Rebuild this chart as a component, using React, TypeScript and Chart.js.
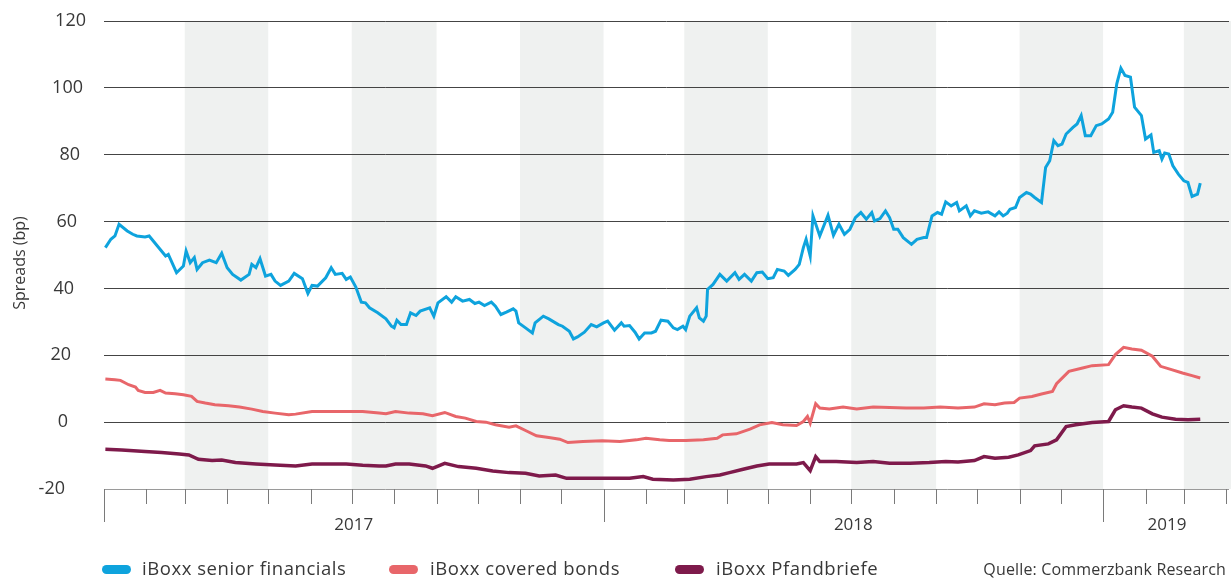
import React, { useEffect, useRef } from 'react';
import { Chart, registerables } from 'chart.js';

Chart.register(...registerables);

// x values: days since 2017-01-01
const seniorDays = [1, 5, 8, 11, 17, 21, 24, 30, 33, 39, 45, 47, 53, 58, 60, 63, 66, 68, 72, 77, 82, 86, 90, 94, 100, 106, 108, 111, 114, 118, 122, 125, 129, 135, 139, 145, 149, 152, 156, 162, 166, 169, 174, 177, 180, 184, 188, 191, 194, 200, 206, 210, 212, 214, 217, 221, 224, 228, 231, 238, 241, 244, 250, 254, 257, 262, 267, 271, 274, 278, 283, 286, 290, 294, 299, 301, 303, 308, 313, 315, 321, 325, 332, 335, 340, 343, 346, 351, 356, 360, 365, 368, 373, 378, 380, 384, 388, 391, 395, 400, 403, 407, 412, 416, 419, 423, 425, 428, 433, 435, 438, 440, 441, 445, 450, 455, 461, 464, 468, 473, 477, 481, 485, 489, 492, 497, 500, 505, 508, 511, 513, 516, 518, 523, 529, 533, 537, 541, 545, 549, 553, 557, 561, 563, 567, 571, 574, 577, 580, 584, 590, 594, 599, 601, 605, 609, 612, 615, 619, 623, 625, 630, 633, 636, 641, 646, 651, 654, 657, 660, 662, 666, 669, 674, 677, 680, 685, 688, 691, 694, 697, 700, 703, 708, 711, 714, 717, 721, 725, 729, 734, 737, 740, 743, 746, 750, 753, 758, 761, 765, 767, 771, 773, 775, 778, 781, 785, 789, 792, 795, 799, 801];
const seniorSpread = [52.2, 54.7, 55.7, 59.2, 57.2, 56.2, 55.7, 55.4, 55.7, 52.7, 49.7, 50.2, 44.7, 46.7, 51.2, 47.7, 49.2, 45.7, 47.7, 48.5, 47.7, 50.5, 46.2, 44.2, 42.5, 44.2, 47.2, 46.2, 48.9, 43.7, 44.2, 42.2, 40.9, 42.2, 44.5, 42.9, 38.5, 40.9, 40.7, 43.2, 46.2, 44.2, 44.5, 42.7, 43.4, 40.4, 35.9, 35.7, 34.2, 32.7, 30.9, 28.7, 28.2, 30.5, 29.2, 29.2, 32.7, 31.9, 33.2, 34.2, 31.7, 35.7, 37.5, 35.9, 37.5, 36.2, 36.7, 35.5, 35.9, 34.9, 35.9, 34.7, 32.2, 32.9, 33.9, 33.2, 29.7, 28.2, 26.7, 29.7, 31.7, 30.9, 29.2, 28.7, 27.2, 24.9, 25.5, 26.9, 29.2, 28.5, 29.7, 30.2, 27.5, 29.7, 28.7, 28.9, 26.9, 24.9, 26.7, 26.7, 27.2, 30.5, 30.2, 28.2, 27.7, 28.7, 27.7, 31.7, 34.2, 31.2, 30.2, 31.7, 39.7, 41.2, 44.2, 42.2, 44.7, 42.7, 44.2, 42.2, 44.7, 44.9, 42.9, 43.2, 45.7, 45.2, 43.9, 45.7, 47.2, 52.2, 54.7, 49.7, 61.7, 55.7, 61.9, 55.9, 59.2, 56.2, 57.7, 61.2, 62.7, 60.7, 62.7, 60.2, 60.9, 63.2, 61.2, 57.7, 57.7, 55.2, 53.2, 54.7, 55.2, 55.2, 61.7, 62.7, 62.2, 65.9, 64.7, 65.7, 63.2, 64.7, 61.7, 63.2, 62.5, 62.9, 61.7, 62.9, 61.7, 62.5, 63.7, 64.2, 67.2, 68.7, 68.2, 67.2, 65.7, 76.2, 78.2, 84.2, 82.7, 83.2, 86.2, 88.2, 89.2, 91.7, 85.7, 85.7, 88.7, 89.2, 90.7, 92.7, 101.2, 105.9, 103.7, 103.2, 94.2, 91.7, 84.7, 85.9, 80.7, 81.2, 78.7, 80.5, 80.2, 76.7, 74.2, 72.2, 71.7, 67.5, 68.2, 71.5];

const coveredDays = [1, 8, 12, 18, 23, 25, 30, 36, 41, 45, 52, 58, 64, 68, 74, 81, 91, 99, 108, 116, 125, 135, 140, 152, 164, 177, 189, 201, 206, 213, 223, 233, 240, 249, 257, 264, 272, 279, 286, 296, 301, 308, 316, 325, 333, 339, 350, 364, 377, 389, 396, 406, 413, 425, 438, 448, 452, 462, 472, 479, 488, 496, 506, 511, 514, 516, 520, 523, 530, 540, 550, 562, 574, 586, 599, 611, 624, 636, 643, 651, 658, 665, 669, 678, 685, 693, 696, 705, 715, 722, 734, 739, 745, 751, 758, 766, 772, 780, 788, 795, 801];
const coveredSpread = [12.9, 12.7, 12.5, 11.2, 10.5, 9.5, 8.9, 8.9, 9.5, 8.7, 8.5, 8.2, 7.7, 6.2, 5.7, 5.2, 4.9, 4.5, 3.9, 3.2, 2.7, 2.2, 2.4, 3.2, 3.2, 3.2, 3.2, 2.7, 2.5, 3.2, 2.7, 2.5, 1.9, 2.9, 1.7, 1.2, 0.2, 0.0, -0.8, -1.5, -1.1, -2.5, -4.1, -4.6, -5.1, -6.1, -5.8, -5.6, -5.8, -5.3, -4.8, -5.3, -5.5, -5.5, -5.3, -4.8, -3.8, -3.5, -2.1, -0.8, -0.1, -0.8, -1.0, 0.2, 1.7, -0.3, 5.5, 4.2, 3.9, 4.5, 3.9, 4.5, 4.4, 4.2, 4.2, 4.5, 4.2, 4.5, 5.5, 5.2, 5.7, 5.9, 7.2, 7.7, 8.4, 9.2, 11.5, 15.2, 16.2, 16.9, 17.2, 20.2, 22.4, 21.9, 21.5, 19.7, 16.7, 15.7, 14.7, 13.9, 13.2];

const pfandDays = [1, 13, 30, 42, 55, 62, 69, 79, 86, 96, 111, 125, 140, 152, 164, 177, 189, 201, 206, 213, 223, 235, 240, 249, 259, 272, 284, 296, 308, 318, 330, 338, 350, 369, 384, 394, 401, 416, 428, 440, 450, 457, 467, 477, 486, 496, 506, 511, 516, 520, 523, 535, 550, 562, 574, 589, 603, 615, 624, 636, 643, 651, 661, 668, 677, 680, 690, 696, 703, 710, 722, 734, 739, 745, 751, 758, 766, 773, 783, 792, 801];
const pfandSpread = [-8.1, -8.3, -8.8, -9.1, -9.5, -9.8, -11.1, -11.5, -11.3, -12.1, -12.5, -12.8, -13.1, -12.5, -12.5, -12.5, -12.9, -13.1, -13.1, -12.5, -12.5, -13.1, -13.8, -12.3, -13.3, -13.8, -14.6, -15.1, -15.3, -16.1, -15.8, -16.8, -16.8, -16.8, -16.8, -16.3, -17.1, -17.3, -17.1, -16.3, -15.8, -15.1, -14.1, -13.1, -12.5, -12.5, -12.5, -12.1, -14.5, -10.3, -11.8, -11.8, -12.1, -11.8, -12.3, -12.3, -12.1, -11.8, -11.9, -11.5, -10.3, -10.8, -10.5, -9.8, -8.5, -7.1, -6.5, -5.3, -1.3, -0.8, -0.1, 0.2, 3.7, 4.9, 4.5, 4.2, 2.5, 1.5, 0.9, 0.7, 0.9];

const seriesLabels = ['iBoxx senior financials', 'iBoxx covered bonds', 'iBoxx Pfandbriefe'];
const seriesColors = ['#0ea3dd', '#e8666a', '#7e1a4b'];
const yearLabels = ['2017', '2018', '2019'];
const yTitle = 'Spreads (bp)';
const sourceNote = 'Quelle: Commerzbank Research';

const DAY0 = Date.UTC(2017, 0, 1);
const dayOf = (y: number, m: number) => (Date.UTC(y, m, 1) - DAY0) / 86400000;
const FONT = '"Open Sans", sans-serif';
const TEXT = '#383838';

export default function App() {
  const ref = useRef<HTMLCanvasElement>(null);

  useEffect(() => {
    document.body.style.margin = '0';
    document.body.style.overflow = 'hidden';
    const canvas = ref.current!;

    const decor = {
      id: 'decor',
      beforeDraw(chart: any) {
        const { ctx, chartArea: a, scales } = chart;
        const x = scales.x;
        ctx.save();
        ctx.fillStyle = '#eff1f0';
        for (let y = 2017; y <= 2019; y++) {
          for (const m of [2, 6, 10]) {
            const x0 = x.getPixelForValue(dayOf(y, m));
            const x1 = x.getPixelForValue(dayOf(y, m + 2));
            const l = Math.max(x0, a.left);
            const r = Math.min(x1, chart.width);
            if (r > l) ctx.fillRect(l, a.top, r - l, a.bottom - a.top);
          }
        }
        ctx.restore();
      },
      afterDraw(chart: any) {
        const { ctx, chartArea: a, scales } = chart;
        const x = scales.x;
        const yS = scales.y;
        ctx.save();
        // month ticks
        ctx.strokeStyle = '#7a7a7a';
        ctx.lineWidth = 1;
        const axisY = a.bottom;
        for (let y = 2017; y <= 2019; y++) {
          for (let m = 0; m < 12; m++) {
            const d = dayOf(y, m);
            if (d > x.max) continue;
            const px = Math.round(x.getPixelForValue(d)) + 0.5;
            const len = m === 0 ? 33 : 15;
            ctx.beginPath();
            ctx.moveTo(px, axisY);
            ctx.lineTo(px, axisY + len);
            ctx.stroke();
          }
        }
        // year labels
        ctx.fillStyle = TEXT;
        ctx.font = `17px ${FONT}`;
        ctx.textAlign = 'center';
        ctx.textBaseline = 'middle';
        yearLabels.forEach((lab, i) => {
          const yr = 2017 + i;
          const l = x.getPixelForValue(dayOf(yr, 0));
          const r = Math.min(x.getPixelForValue(dayOf(yr + 1, 0)), chart.width);
          ctx.fillText(lab, (l + r) / 2, axisY + 36);
        });
        // y tick labels
        ctx.font = `18px ${FONT}`;
        ctx.textAlign = 'right';
        yS.ticks.forEach((t: any) => {
          const py = yS.getPixelForValue(t.value);
          const right = 65 + (t.value + 20) * 0.15;
          ctx.fillText(String(t.value), right, py);
        });
        // y title
        ctx.save();
        ctx.font = `16px ${FONT}`;
        ctx.textAlign = 'center';
        ctx.textBaseline = 'middle';
        ctx.translate(20, 263);
        ctx.rotate(-Math.PI / 2);
        ctx.fillText(yTitle, 0, 0);
        ctx.restore();
        // legend
        const pillX = [102, 389, 675];
        const textX = [142, 430, 716];
        const baseY = 575;
        ctx.textAlign = 'left';
        ctx.textBaseline = 'alphabetic';
        ctx.font = `18.5px ${FONT}`;
        seriesLabels.forEach((lab, i) => {
          const w = 29, h = 9, r = h / 2;
          const px = pillX[i], cy = 569.5;
          ctx.fillStyle = seriesColors[i];
          ctx.beginPath();
          ctx.moveTo(px + r, cy - r);
          ctx.lineTo(px + w - r, cy - r);
          ctx.arc(px + w - r, cy, r, -Math.PI / 2, Math.PI / 2);
          ctx.lineTo(px + r, cy + r);
          ctx.arc(px + r, cy, r, Math.PI / 2, Math.PI * 1.5);
          ctx.closePath();
          ctx.fill();
          ctx.fillStyle = TEXT;
          (ctx as any).letterSpacing = '0.55px';
          ctx.fillText(lab, textX[i], baseY);
          (ctx as any).letterSpacing = '0px';
        });
        ctx.font = `16px ${FONT}`;
        ctx.textAlign = 'right';
        (ctx as any).letterSpacing = '0.15px';
        ctx.fillText(sourceNote, 1226, baseY);
        (ctx as any).letterSpacing = '0px';
        ctx.restore();
      },
    };

    const mk = (days: number[], vals: number[]) => days.map((d, i) => ({ x: d, y: vals[i] }));

    const chart = new Chart(canvas, {
      type: 'line',
      data: {
        datasets: [
          { label: seriesLabels[0], data: mk(seniorDays, seniorSpread), borderColor: seriesColors[0], borderWidth: 3, pointRadius: 0, tension: 0, fill: false },
          { label: seriesLabels[1], data: mk(coveredDays, coveredSpread), borderColor: seriesColors[1], borderWidth: 3, pointRadius: 0, tension: 0, fill: false },
          { label: seriesLabels[2], data: mk(pfandDays, pfandSpread), borderColor: seriesColors[2], borderWidth: 3.5, pointRadius: 0, tension: 0, fill: false },
        ],
      },
      options: {
        animation: false,
        responsive: false,
        devicePixelRatio: 1,
        layout: { padding: { left: 0, right: 2, top: 21, bottom: 89 } },
        plugins: { legend: { display: false }, tooltip: { enabled: false } },
        scales: {
          x: {
            type: 'linear',
            min: 0,
            max: 822,
            grid: { display: false },
            border: { display: false },
            ticks: { display: false },
            afterFit: (s: any) => { s.height = 0; },
          },
          y: {
            min: -20,
            max: 120,
            ticks: { stepSize: 20, display: false },
            grid: {
              drawTicks: false,
              lineWidth: 1,
              color: (c: any) => (c.tick && c.tick.value === -20 ? '#9a9a9a' : '#444444'),
            },
            border: { display: false },
            afterFit: (s: any) => { s.width = 104; },
          },
        },
      },
      plugins: [decor],
    } as any);

    return () => chart.destroy();
  }, []);

  return (
    <div style={{ width: 1231, height: 578, overflow: 'hidden' }}>
      <canvas ref={ref} width={1231} height={578} style={{ display: 'block' }} />
    </div>
  );
}
